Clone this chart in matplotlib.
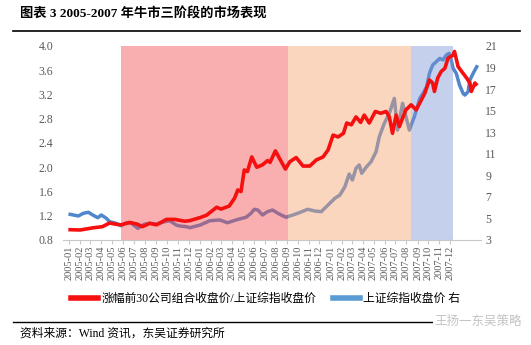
import matplotlib
matplotlib.use("Agg")
import matplotlib.pyplot as plt
import pandas as pd
from matplotlib.lines import Line2D

plt.rcParams['font.family'] = ['Liberation Serif', 'Noto Sans CJK SC']

# top-30 gainers portfolio close / SSE composite close (left axis)
red_dates = ['2005-01-04', '2005-02-01', '2005-03-08', '2005-04-04', '2005-04-24', '2005-05-12',
             '2005-05-26', '2005-06-19', '2005-07-11', '2005-07-25', '2005-08-14', '2005-09-02',
             '2005-09-30', '2005-10-23', '2005-11-20', '2005-12-04', '2006-01-02', '2006-01-20',
             '2006-02-17', '2006-03-01', '2006-03-24', '2006-04-08', '2006-04-17', '2006-04-26',
             '2006-05-05', '2006-05-14', '2006-05-26', '2006-06-09', '2006-06-25', '2006-07-09',
             '2006-07-16', '2006-07-31', '2006-08-11', '2006-08-28', '2006-09-09', '2006-09-27',
             '2006-10-16', '2006-11-04', '2006-11-22', '2006-12-11', '2006-12-25', '2007-01-08',
             '2007-01-22', '2007-02-06', '2007-02-15', '2007-02-28', '2007-03-13', '2007-03-26',
             '2007-04-05', '2007-04-19', '2007-05-06', '2007-05-21', '2007-06-05', '2007-06-14',
             '2007-06-23', '2007-07-03', '2007-07-12', '2007-07-30', '2007-08-14', '2007-08-28',
             '2007-09-07', '2007-09-21', '2007-10-04', '2007-10-13', '2007-10-18', '2007-10-27',
             '2007-11-06', '2007-11-16', '2007-11-25', '2007-12-09', '2007-12-13', '2007-12-23',
             '2008-01-02', '2008-01-16', '2008-01-25', '2008-01-29', '2008-02-08', '2008-02-11']
red_vals = [0.97, 0.965, 1.00, 1.02, 1.08, 1.06,
            1.05, 1.09, 1.06, 1.02, 1.075, 1.05,
            1.14, 1.14, 1.11, 1.12, 1.17, 1.21,
            1.34, 1.31, 1.36, 1.49, 1.625, 1.60,
            1.955, 1.93, 2.17, 2.00, 2.04, 2.11,
            2.08, 2.27, 2.15, 1.97, 2.09, 2.16,
            2.02, 2.02, 2.12, 2.17, 2.285, 2.53,
            2.50, 2.56, 2.73, 2.70, 2.83, 2.74,
            2.86, 2.73, 2.92, 2.89, 2.92, 2.83,
            2.56, 2.86, 2.67, 2.945, 3.03, 2.945,
            3.06, 3.22, 3.44, 3.39, 3.25, 3.47,
            3.58, 3.63, 3.80, 3.85, 3.91, 3.66,
            3.58, 3.47, 3.39, 3.25, 3.39, 3.37]

# SSE composite close (right axis)
blue_dates = ['2005-01-04', '2005-01-13', '2005-01-27', '2005-02-10', '2005-02-24', '2005-03-08',
              '2005-03-22', '2005-04-01', '2005-04-15', '2005-04-24', '2005-05-12', '2005-05-26',
              '2005-06-10', '2005-06-24', '2005-07-12', '2005-07-30', '2005-08-14', '2005-09-02',
              '2005-09-25', '2005-10-09', '2005-10-27', '2005-11-06', '2005-11-25', '2005-12-04',
              '2006-01-02', '2006-01-29', '2006-02-26', '2006-03-19', '2006-04-12', '2006-05-10',
              '2006-05-24', '2006-06-02', '2006-06-12', '2006-06-25', '2006-07-09', '2006-07-23',
              '2006-08-07', '2006-08-16', '2006-08-30', '2006-09-09', '2006-09-18', '2006-10-07',
              '2006-10-29', '2006-11-18', '2006-12-06', '2006-12-25', '2007-01-13', '2007-01-27',
              '2007-02-10', '2007-02-22', '2007-03-03', '2007-03-13', '2007-03-22', '2007-03-29',
              '2007-04-10', '2007-04-24', '2007-05-08', '2007-05-17', '2007-05-31', '2007-06-14',
              '2007-06-28', '2007-07-07', '2007-07-21', '2007-08-02', '2007-08-09', '2007-08-14',
              '2007-08-23', '2007-09-07', '2007-09-16', '2007-09-26', '2007-10-04', '2007-10-13',
              '2007-10-23', '2007-11-02', '2007-11-11', '2007-11-20', '2007-11-28', '2007-12-04',
              '2007-12-09', '2007-12-18', '2007-12-27', '2008-01-06', '2008-01-11', '2008-01-20',
              '2008-01-25', '2008-02-03', '2008-02-13']
blue_vals = [5.38, 5.32, 5.23, 5.48, 5.57, 5.32,
             5.07, 5.32, 5.01, 4.70, 4.55, 4.33,
             4.60, 4.55, 4.08, 4.46, 4.55, 4.48,
             4.70, 4.79, 4.39, 4.30, 4.23, 4.14,
             4.39, 4.79, 4.86, 4.60, 4.86, 5.11,
             5.48, 5.85, 5.78, 5.32, 5.63, 5.78,
             5.48, 5.32, 5.11, 5.23, 5.32, 5.55,
             5.85, 5.69, 5.63, 6.25, 6.87, 7.17,
             7.95, 9.12, 8.57, 9.65, 9.96, 9.19,
             9.74, 10.26, 11.19, 12.58, 13.82, 14.75,
             16.14, 13.20, 15.68, 14.10, 13.20, 13.67,
             14.44, 16.14, 16.60, 17.20, 18.46, 19.23,
             19.54, 19.85, 19.70, 20.16, 20.32, 19.70,
             18.93, 18.46, 17.38, 16.60, 16.45, 16.76,
             17.84, 18.46, 19.07]

# three phases of the bull market
phase_edges = ['2005-05-27', '2006-09-03', '2007-08-14', '2007-12-10']
phase_colors = ['#F24F4F', '#F4A473', '#7C97D5']

month_ticks = pd.date_range('2005-01-01', '2007-12-01', freq='MS')

red_x = pd.to_datetime(red_dates)
blue_x = pd.to_datetime(blue_dates)

fig = plt.figure(figsize=(5.31, 3.45), dpi=100)
ax = fig.add_axes([63 / 531, 1 - 240 / 345, 418 / 531, 194 / 345])
ax2 = ax.twinx()

# blue sits under the shaded phases, red on top of them
ax.set_zorder(ax2.get_zorder() + 1)
ax.patch.set_visible(False)

ax2.plot(blue_x, blue_vals, color='#4F86CC', lw=2.5, solid_joinstyle='round')
for i in range(3):
    ax.axvspan(pd.Timestamp(phase_edges[i]), pd.Timestamp(phase_edges[i + 1]),
               color=phase_colors[i], alpha=0.45, lw=0, zorder=1)
ax.plot(red_x, red_vals, color='#F50F0F', lw=2.6, zorder=3, solid_joinstyle='round')

ax.set_xlim(pd.Timestamp('2004-12-15'), pd.Timestamp('2008-02-25'))
ax.set_ylim(0.8, 4.0)
ax2.set_ylim(3, 21)
ax.set_yticks([0.8 + 0.4 * i for i in range(9)])
ax.set_yticklabels(['%.1f' % (0.8 + 0.4 * i) for i in range(9)])
ax2.set_yticks(range(3, 22, 2))

ax.set_xticks(month_ticks)
ax.set_xticklabels([d.strftime('%Y-%m') for d in month_ticks], rotation=90)

for a in (ax, ax2):
    for s in ('top', 'left', 'right', 'bottom'):
        a.spines[s].set_visible(False)
ax.spines['bottom'].set_visible(True)
ax.spines['bottom'].set_color('#C8C8C8')
ax.tick_params(axis='x', length=3, color='#C8C8C8', labelsize=7.5, labelcolor='#595959', pad=1)
ax.tick_params(axis='y', length=0, labelsize=8.5, labelcolor='#595959', pad=7)
ax2.tick_params(axis='y', length=0, labelsize=8.5, labelcolor='#595959', pad=3)

handles = [Line2D([], [], color='#F50F0F', lw=4),
           Line2D([], [], color='#5B9BD5', lw=4)]
fig.legend(handles, ['涨幅前30公司组合收盘价/上证综指收盘价', '上证综指收盘价 右'],
           loc='center', bbox_to_anchor=(0.5, 1 - 299 / 345), ncol=2, frameon=False,
           fontsize=8.5, handlelength=2.3, columnspacing=1.4, handletextpad=0.3)

fig.text(20 / 531, 1 - 14 / 345, '图表 3 2005-2007 年牛市三阶段的市场表现',
         fontsize=9.5, fontweight='bold', va='center', ha='left')
fig.add_artist(Line2D([13 / 531, 520 / 531], [1 - 31 / 345] * 2, color='black', lw=1.2))
fig.add_artist(Line2D([13 / 531, 520 / 531], [1 - 322 / 345] * 2, color='black', lw=1.0))
fig.text(478 / 531, 1 - 322 / 345, '王扬一东吴策略', fontsize=9, color='#C4C4C4',
         ha='center', va='center',
         bbox=dict(facecolor='white', edgecolor='none', pad=1))
fig.text(20 / 531, 1 - 334 / 345, '资料来源：Wind 资讯，东吴证券研究所',
         fontsize=8.5, va='center', ha='left')

fig.savefig('out.png', dpi=100)
